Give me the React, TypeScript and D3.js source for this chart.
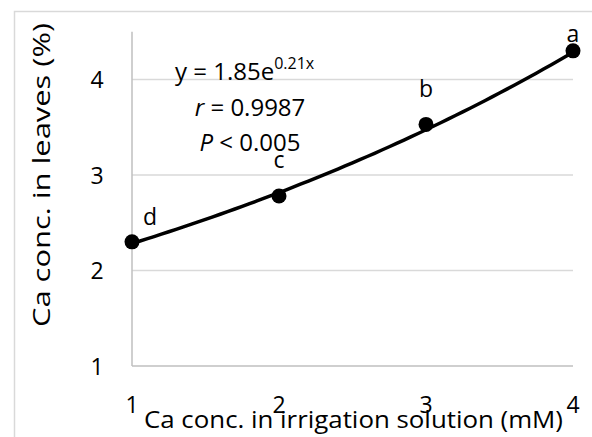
import React from 'react';
import * as d3 from 'd3';

// irrigation Ca (mM) vs leaf Ca (%)
const xValues = [1, 2, 3, 4];
const yValues = [2.3, 2.78, 3.53, 4.3];
const letters = ['d', 'c', 'b', 'a'];
const xTicks = [1, 2, 3, 4];
const yTicks = [1, 2, 3, 4];
// exponential fit shown on the chart: y = a * e^(b x)
const fitA = 1.85;
const fitB = 0.21;

const W = 592;
const H = 437;
const FONT = '"Open Sans", sans-serif';

// where each letter sits relative to its point
const labelDx = [18, 0, 0, 0];
const labelDy = [-17, -28, -27, -9];

export default function App() {
  const x = d3.scaleLinear().domain([1, 4]).range([132, 573]);
  const y = d3.scaleLinear().domain([1, 4.5]).range([366, 31.75]);

  const fitPts: [number, number][] = d3.range(1, 4.0001, 0.05).map(v => [v, fitA * Math.exp(fitB * v)]);
  const line = d3.line<[number, number]>()
    .x(d => x(d[0]))
    .y(d => y(d[1]))
    .curve(d3.curveBasis);

  return (
    <svg width={W} height={H} style={{ position: 'absolute', left: 0, top: 0, background: '#fff' }}
      fontFamily={FONT}>
      <rect x={14.5} y={11.5} width={W} height={H} fill="#fff" stroke="#d9d9d9" strokeWidth={1.5} />

      {/* grid */}
      {yTicks.filter(t => t > 1).map(t => (
        <line key={t} x1={x(1)} x2={x(4)} y1={y(t)} y2={y(t)} stroke="#d9d9d9" strokeWidth={1.5} />
      ))}
      <line x1={x(1)} x2={x(1)} y1={y(4.5)} y2={y(1)} stroke="#bfbfbf" strokeWidth={1.5} />
      <line x1={x(1)} x2={x(4)} y1={y(1)} y2={y(1)} stroke="#bfbfbf" strokeWidth={1.5} />

      {/* tick labels */}
      {yTicks.map(t => (
        <text key={t} x={97} y={y(t) + 8.5} textAnchor="middle" fontSize={23} fill="#000">{t}</text>
      ))}
      {xTicks.map(t => (
        <text key={t} x={x(t)} y={413} textAnchor="middle" fontSize={23} fill="#000">{t}</text>
      ))}

      {/* axis titles */}
      <text x={144} y={428} fontSize={23} textLength={419} lengthAdjust="spacingAndGlyphs" fill="#000">
        Ca conc. in irrigation solution (mM)
      </text>
      <text transform="translate(50,175) rotate(-90)" textAnchor="middle" fontSize={23}
        textLength={304} lengthAdjust="spacingAndGlyphs" fill="#000">
        Ca conc. in leaves (%)
      </text>

      {/* fit curve and points */}
      <path d={line(fitPts) || ''} fill="none" stroke="#000" strokeWidth={3.5} />
      {xValues.map((v, i) => (
        <circle key={v} cx={x(v)} cy={y(yValues[i])} r={7.5} fill="#000" />
      ))}
      {xValues.map((v, i) => (
        <text key={'l' + v} x={x(v) + labelDx[i]} y={y(yValues[i]) + labelDy[i]}
          textAnchor="middle" fontSize={23} fill="#000">{letters[i]}</text>
      ))}

      {/* equation */}
      <text x={175} y={80} fontSize={24} fill="#000">
        y = {fitA}e<tspan dy={-11} fontSize={16}>{`${fitB}x`}</tspan>
      </text>
      <text x={250} y={116} textAnchor="middle" fontSize={24} fill="#000">
        <tspan fontStyle="italic">r</tspan> = 0.9987
      </text>
      <text x={250} y={151} textAnchor="middle" fontSize={24} fill="#000">
        <tspan fontStyle="italic">P</tspan> &lt; 0.005
      </text>
    </svg>
  );
}
